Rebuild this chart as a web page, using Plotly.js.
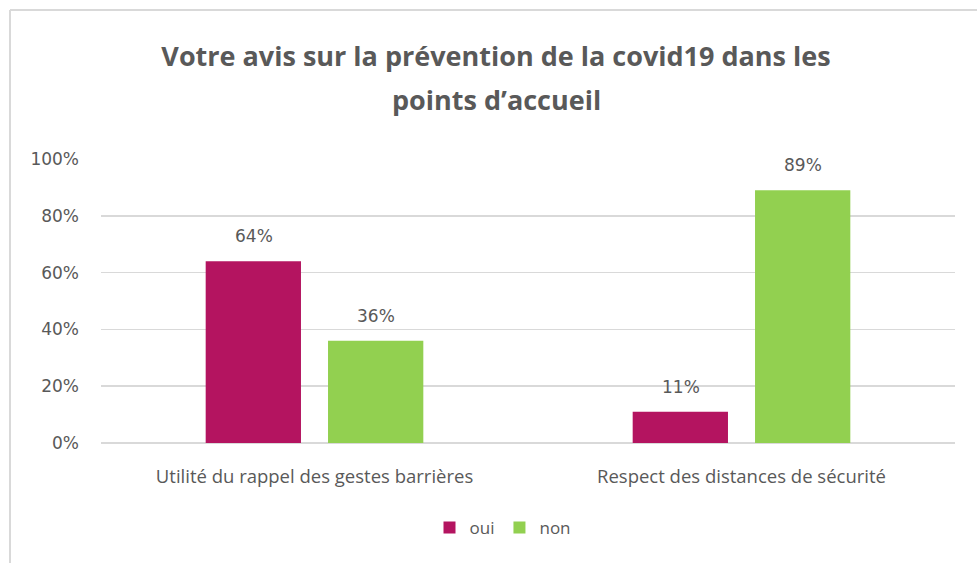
<!DOCTYPE html>
<html>
<head>
<meta charset="utf-8">
<script src="https://cdn.plot.ly/plotly-3.0.1.min.js"></script>
<style>html,body{margin:0;padding:0;background:#fff;}#chart{width:977px;height:563px;}</style>
</head>
<body>
<div id="chart"></div>
<script>
const categories = ["Utilité du rappel des gestes barrières", "Respect des distances de sécurité"];
const seriesNames = ["oui", "non"];
const ouiValues = [0.64, 0.11];
const nonValues = [0.36, 0.89];
const yTickVals = [0, 0.2, 0.4, 0.6, 0.8, 1.0];
const yTickText = ["0%", "20%", "40%", "60%", "80%", "100%"];
const titleLine1 = "Votre avis sur la prévention de la covid19 dans les";
const titleLine2 = "points d’accueil";

const colors = ["#B41460", "#92D050"];
const allValues = [ouiValues, nonValues];

const traces = allValues.map((vals, i) => ({
  type: "bar",
  name: seriesNames[i],
  x: categories,
  y: vals,
  marker: {color: colors[i]},
  hoverinfo: "none"
}));

const W = 977, H = 563, L = 101, R = 22, T = 159, B = 120;
const pw = W - L - R, ph = H - T - B;
const px = p => (p - L) / pw;
const py = p => (H - B - p) / ph;

const labelAnn = [];
allValues.forEach((vals, i) => {
  vals.forEach((v, j) => {
    labelAnn.push({
      x: categories[j], y: v, xref: "x", yref: "y",
      text: Math.round(v * 100) + "%",
      showarrow: false, xanchor: "center", yanchor: "middle",
      xshift: i === 0 ? -61 : 61, yshift: 25,
      font: {family: "DejaVu Sans", size: 17, color: "#595959"}
    });
  });
});

const layout = {
  width: W, height: H,
  margin: {l: L, r: R, t: T, b: B},
  paper_bgcolor: "#fff", plot_bgcolor: "#fff",
  showlegend: true,
  title: {
    text: "<b>" + titleLine1 + "</b>",
    xref: "container", yref: "container",
    x: 496 / W, y: 1 - 57 / H, xanchor: "center", yanchor: "middle",
    font: {family: "Open Sans", size: 27, color: "#595959"}
  },
  barmode: "group",
  bargap: 0.427,
  bargroupgap: 0.221,
  xaxis: {
    type: "category",
    showgrid: false, zeroline: false, showline: false, ticks: "",
    ticklabelstandoff: 20,
    tickfont: {family: "Open Sans", size: 18.5, color: "#595959"},
    fixedrange: true
  },
  yaxis: {
    range: [0, 1],
    tickvals: yTickVals, ticktext: yTickText,
    showgrid: true, gridcolor: "#D9D9D9", gridwidth: 1.5,
    zeroline: true, zerolinecolor: "#D9D9D9", zerolinewidth: 1.5,
    showline: false, ticks: "", ticklen: 0,
    ticklabelstandoff: 21,
    tickfont: {family: "DejaVu Sans", size: 17, color: "#595959"},
    fixedrange: true
  },
  legend: {
    orientation: "h",
    x: px(503), y: py(528), xanchor: "center", yanchor: "middle",
    font: {family: "Open Sans", size: 17, color: "#595959"},
    itemclick: false, itemdoubleclick: false
  },
  annotations: [
    {
      text: "<b>" + titleLine2 + "</b>",
      xref: "paper", yref: "paper", x: px(496), y: py(100),
      xanchor: "center", yanchor: "middle", showarrow: false,
      font: {family: "Open Sans", size: 27, color: "#595959"}
    }
  ].concat(labelAnn),
  shapes: [
    {type: "line", xref: "paper", yref: "paper", x0: px(10), x1: px(977), y0: py(10), y1: py(10), line: {color: "#D9D9D9", width: 2}},
    {type: "line", xref: "paper", yref: "paper", x0: px(10), x1: px(10), y0: py(10), y1: py(563), line: {color: "#D9D9D9", width: 2}}
  ]
};

Plotly.newPlot("chart", traces, layout, {displayModeBar: false, staticPlot: true});
</script>
</body>
</html>
